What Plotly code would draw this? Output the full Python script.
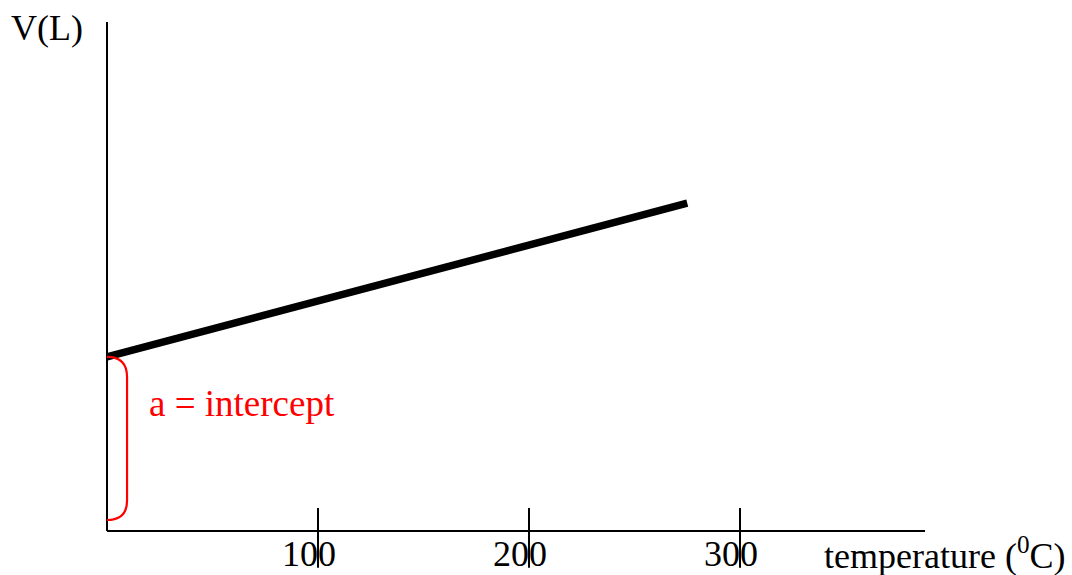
import plotly.graph_objects as go

# Data
temperature = [0, 275]
volume = [3.42, 6.44]
tick_values = [100, 200, 300]
tick_labels = ["100", "200", "300"]
intercept_value = 3.42

x_title = "temperature (<sup>0</sup>C)"
y_title = "V(L)"
brace_label = "a = intercept"

FONT = "Liberation Serif, Times New Roman, serif"
PX_PER_T = 2.11
PX_PER_V = 50.9
X0_PX = 107
Y0_PX = 531
W, H = 1072, 575

xr = [-X0_PX / PX_PER_T, (W - X0_PX) / PX_PER_T]
yr = [(Y0_PX - H) / PX_PER_V, Y0_PX / PX_PER_V]

fig = go.Figure()
fig.add_trace(go.Scatter(
    x=temperature, y=volume, mode="lines",
    line=dict(color="black", width=7.5), hoverinfo="skip", showlegend=False,
))

shapes = []
# axes
shapes.append(dict(type="line", xref="x", yref="y", x0=0, x1=0, y0=0, y1=10,
                   line=dict(color="black", width=2)))
shapes.append(dict(type="line", xref="x", yref="y", x0=0, x1=387.7, y0=0, y1=0,
                   line=dict(color="black", width=2)))
# ticks
for t in tick_values:
    shapes.append(dict(type="line", xref="x", yref="y", x0=t, x1=t, y0=0.45, y1=-0.72,
                       line=dict(color="black", width=2), layer="above"))
# brace
b = intercept_value
brace = (f"M 0,{b} C 6,{b} 9.5,{b-0.12} 9.5,{b-0.4} "
         f"L 9.5,0.6 C 9.5,0.33 6,0.216 0,0.216")
shapes.append(dict(type="path", xref="x", yref="y", path=brace,
                   line=dict(color="red", width=2.2)))

annotations = []
for t, lab in zip(tick_values, tick_labels):
    annotations.append(dict(x=t, y=-0.45, xref="x", yref="y", text=lab, showarrow=False,
                            xanchor="center", yanchor="middle", xshift=-9,
                            font=dict(family=FONT, size=36, color="black")))
annotations.append(dict(x=338.8, y=-0.45, xref="x", yref="y", text=x_title, showarrow=False,
                        xanchor="left", yanchor="middle",
                        font=dict(family=FONT, size=36, color="black")))
annotations.append(dict(x=-46.5, y=9.88, xref="x", yref="y", text=y_title, showarrow=False,
                        xanchor="left", yanchor="middle",
                        font=dict(family=FONT, size=36, color="black")))
annotations.append(dict(x=19.0, y=2.51, xref="x", yref="y", text=brace_label, showarrow=False,
                        xanchor="left", yanchor="middle",
                        font=dict(family=FONT, size=37, color="red")))

fig.update_layout(
    width=W, height=H, margin=dict(l=0, r=0, t=0, b=0),
    paper_bgcolor="white", plot_bgcolor="white",
    xaxis=dict(range=xr, visible=False, fixedrange=True),
    yaxis=dict(range=yr, visible=False, fixedrange=True),
    shapes=shapes, annotations=annotations,
)
fig.write_html("out.html", config={"displayModeBar": False},
               post_script="document.body.style.margin='0';document.body.style.overflow='hidden';")
